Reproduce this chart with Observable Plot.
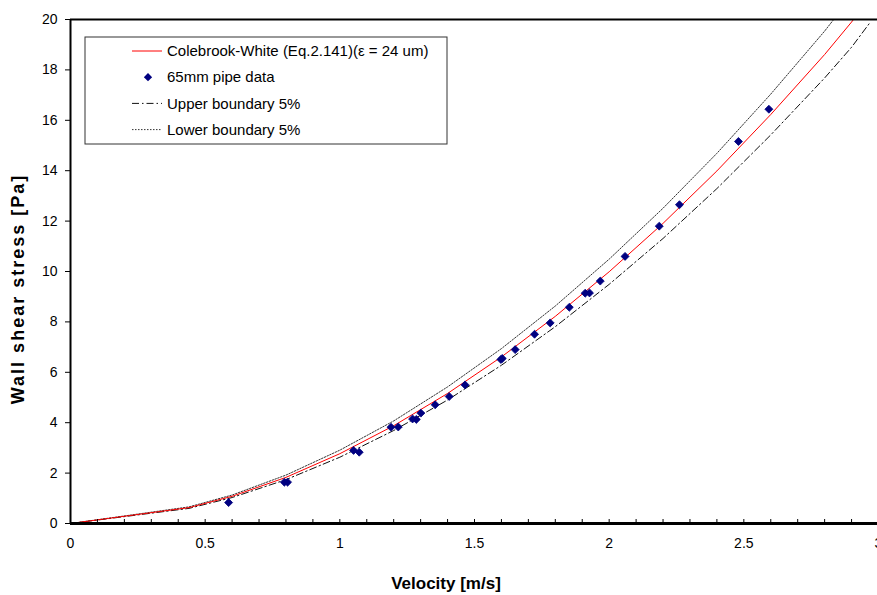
<!DOCTYPE html>
<html>
<head>
<meta charset="utf-8">
<script src="https://cdn.jsdelivr.net/npm/d3@7"></script>
<script src="https://cdn.jsdelivr.net/npm/@observablehq/plot@0.6"></script>
<style>
  html, body { margin: 0; padding: 0; background: #fff; overflow: hidden; }
  #wrap { position: relative; width: 877px; height: 595px; overflow: hidden; font-family: "Liberation Sans", Arial, sans-serif; }
  #wrap > svg { position: absolute; left: 0; top: 0; }
  .title { position: absolute; font-weight: bold; white-space: nowrap; color: #000; }
</style>
</head>
<body>
<div id="wrap"></div>
<script>
// ---- data ----
// Colebrook-White curve (eps = 24 um)
const cwVelocity = [0, 0.44, 0.6, 0.8, 1.0, 1.2, 1.4, 1.6, 1.8, 2.0, 2.2, 2.4, 2.6, 2.8, 2.9, 2.95];
const cwStress   = [0, 0.63, 1.08, 1.83, 2.77, 3.88, 5.16, 6.61, 8.22, 9.99, 11.91, 13.99, 16.23, 18.61, 19.9, 20.6];

// Upper boundary 5% (dash-dot, lies below the red curve)
const upVelocity = [0, 0.44, 0.6, 0.8, 1.0, 1.2, 1.4, 1.6, 1.8, 2.0, 2.2, 2.4, 2.6, 2.8, 2.9, 2.97];
const upStress   = [0, 0.60, 1.03, 1.74, 2.63, 3.69, 4.90, 6.28, 7.81, 9.49, 11.31, 13.29, 15.42, 17.68, 18.9, 19.9];

// Lower boundary 5% (dotted, lies above the red curve)
const loVelocity = [0, 0.44, 0.6, 0.8, 1.0, 1.2, 1.4, 1.6, 1.8, 2.0, 2.2, 2.4, 2.6, 2.8, 2.83, 2.88];
const loStress   = [0, 0.66, 1.13, 1.92, 2.91, 4.07, 5.42, 6.94, 8.63, 10.49, 12.51, 14.69, 17.04, 19.54, 19.95, 20.6];

// 65mm pipe data
const pipeVelocity = [0.587, 0.794, 0.806, 1.051, 1.072, 1.190, 1.217, 1.270, 1.284, 1.301, 1.354, 1.406, 1.465,
                      1.598, 1.603, 1.651, 1.723, 1.781, 1.852, 1.911, 1.927, 1.967, 2.059, 2.186, 2.261, 2.480, 2.593];
const pipeStress   = [0.83, 1.64, 1.64, 2.90, 2.83, 3.82, 3.83, 4.15, 4.13, 4.38, 4.71, 5.04, 5.50,
                      6.51, 6.55, 6.90, 7.51, 7.96, 8.58, 9.14, 9.15, 9.62, 10.60, 11.80, 12.65, 15.16, 16.44];

// axes
const xLabelTicks = [0, 0.5, 1, 1.5, 2, 2.5, 3];
const xTickLabels = ["0", "0.5", "1", "1.5", "2", "2.5", "3"];
const xMinorTicks = d3.range(0, 31).map(i => i / 10);
const yTicks = [0, 2, 4, 6, 8, 10, 12, 14, 16, 18, 20];
const xTitle = "Velocity [m/s]";
const yTitle = "Wall shear stress [Pa]";

const seriesNames = ["Colebrook-White (Eq.2.141)(\u03b5 = 24 um)", "65mm pipe data", "Upper boundary 5%", "Lower boundary 5%"];

// ---- build tables ----
const zip = (xs, ys) => xs.map((x, i) => ({x, y: ys[i]}));
const cw = zip(cwVelocity, cwStress);
const up = zip(upVelocity, upStress);
const lo = zip(loVelocity, loStress);
const pipe = zip(pipeVelocity, pipeStress);

const dotDash = "1.5,1.5";
const dashDot = "7,3,1.5,3";

const chart = Plot.plot({
  width: 877,
  height: 595,
  marginLeft: 70,
  marginTop: 19,
  marginBottom: 72,
  marginRight: 0,
  x: {domain: [0, 3], range: [70, 878]},
  y: {domain: [0, 20], range: [523, 19]},
  style: {fontFamily: "'Liberation Sans', Arial, sans-serif", fontSize: "14px", background: "white", color: "black"},
  marks: [
    Plot.line(lo, {x: "x", y: "y", stroke: "#333", strokeWidth: 1, strokeDasharray: dotDash, clip: true}),
    Plot.line(up, {x: "x", y: "y", stroke: "#111", strokeWidth: 1, strokeDasharray: dashDot, clip: true}),
    Plot.line(cw, {x: "x", y: "y", stroke: "#FF0000", strokeWidth: 1, clip: true}),
    Plot.dot(pipe, {x: "x", y: "y", symbol: "diamond2", r: 3.6, fill: "#000080", stroke: "#000080", strokeWidth: 0.8}),
    Plot.axisY({ticks: yTicks, tickSize: 5, tickPadding: 8, fontSize: 14, label: null, stroke: "#000"}),
    Plot.axisX({ticks: xMinorTicks, tickSize: -4, tickFormat: () => "", label: null}),
    Plot.axisX({ticks: xLabelTicks, tickSize: 0, tickPadding: 15, fontSize: 14, label: null,
                tickFormat: d => xTickLabels[xLabelTicks.indexOf(d)]}),
    Plot.ruleY([20], {stroke: "#000", strokeWidth: 2}),
    Plot.ruleX([0], {stroke: "#000", strokeWidth: 2}),
    Plot.ruleY([0], {stroke: "#000", strokeWidth: 3})
  ]
});

const wrap = document.getElementById("wrap");
wrap.appendChild(chart);

// axis titles
const xt = document.createElement("div");
xt.className = "title";
xt.textContent = xTitle;
xt.style.fontSize = "17px";
xt.style.left = "446px";
xt.style.top = "584px";
xt.style.transform = "translate(-50%, -50%)";
wrap.appendChild(xt);

const yt = document.createElement("div");
yt.className = "title";
yt.textContent = yTitle;
yt.style.fontSize = "18px";
yt.style.letterSpacing = "2px";
yt.style.left = "18px";
yt.style.top = "289px";
yt.style.transform = "translate(-50%, -50%) rotate(-90deg)";
wrap.appendChild(yt);

// legend
const lg = d3.select(wrap).append("svg")
  .attr("width", 364).attr("height", 109)
  .style("left", "84px").style("top", "36px")
  .style("font-family", "'Liberation Sans', Arial, sans-serif");
lg.append("rect").attr("x", 1).attr("y", 1).attr("width", 362).attr("height", 107)
  .attr("fill", "white").attr("stroke", "#333").attr("stroke-width", 1);
const rowY = i => 15 + i * 26.2;
const sx0 = 48, sx1 = 78, tx = 83;
lg.append("line").attr("x1", sx0).attr("x2", sx1).attr("y1", rowY(0)).attr("y2", rowY(0))
  .attr("stroke", "#FF0000").attr("stroke-width", 1);
lg.append("path").attr("d", d3.symbol(d3.symbolDiamond2, 44)()).attr("transform", `translate(${(sx0 + sx1) / 2 + 1},${rowY(1)})`)
  .attr("fill", "#000080");
lg.append("line").attr("x1", sx0).attr("x2", sx1).attr("y1", rowY(2)).attr("y2", rowY(2))
  .attr("stroke", "#111").attr("stroke-width", 1).attr("stroke-dasharray", dashDot);
lg.append("line").attr("x1", sx0).attr("x2", sx1).attr("y1", rowY(3)).attr("y2", rowY(3))
  .attr("stroke", "#333").attr("stroke-width", 1).attr("stroke-dasharray", dotDash);
seriesNames.forEach((name, i) => {
  lg.append("text").attr("x", tx).attr("y", rowY(i)).attr("dy", "0.35em")
    .attr("font-size", 15).attr("fill", "#000").text(name);
});
</script>
</body>
</html>
